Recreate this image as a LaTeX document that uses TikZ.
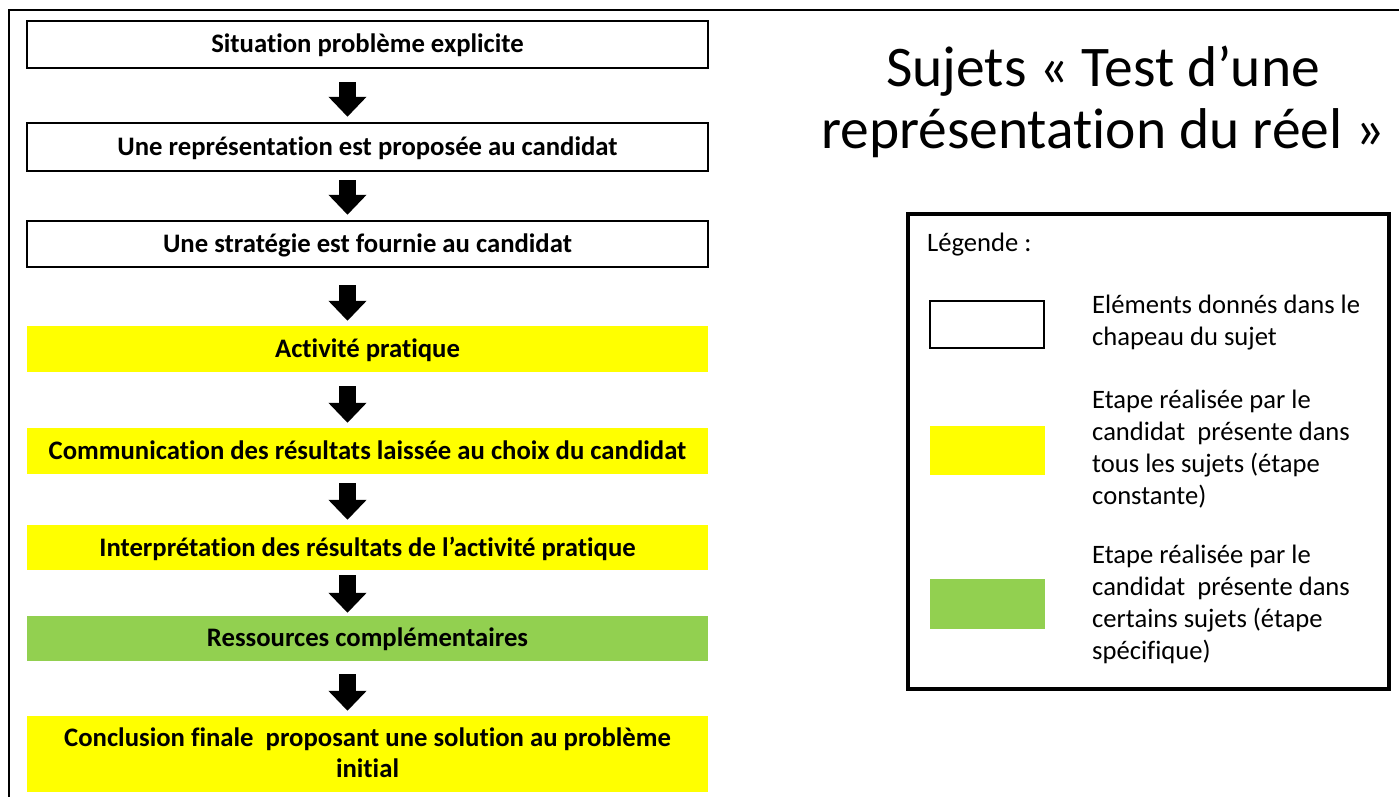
\documentclass[tikz,border=0pt]{standalone}
\usepackage{fontspec}
\setmainfont{Carlito}[Ligatures=NoCommon]
\usetikzlibrary{arrows.meta}
\definecolor{yel}{HTML}{FFFF00}
\definecolor{grn}{HTML}{92D050}
\tikzset{
  stepbase/.style={rectangle, minimum width=681pt, inner sep=0pt, text depth=2pt, font=\fontsize{26.7}{31}\selectfont\bfseries, align=center},
  given/.style={stepbase, draw=black, line width=2.5pt, fill=white},
  constant/.style={stepbase, fill=yel},
  specific/.style={stepbase, fill=grn},
  blk/.style={line width=17pt, black, -{Triangle[width=37pt,length=20pt]}},
  legtext/.style={anchor=west, align=left, inner sep=0pt, font=\fontsize{26.6}{32}\selectfont},
}
\begin{document}
\begin{tikzpicture}[x=1pt,y=-1pt]
\useasboundingbox (0,0) rectangle (1399,796);
% outer frame
\draw[line width=2pt] (9,800) -- (9,10) -- (1402,10);

\node[given, minimum height=47pt] (s1) at (367.5,44.5) {Situation problème explicite};
\node[given, minimum height=48pt] (s2) at (367.5,147) {Une représentation est proposée au candidat};
\node[given, minimum height=46pt] (s3) at (367.5,244) {Une stratégie est fournie au candidat};
\node[constant, minimum height=46pt] (s4) at (367.5,349) {Activité pratique};
\node[constant, minimum height=46pt] (s5) at (367.5,451) {Communication des résultats laissée au choix du candidat};
\node[constant, minimum height=45pt] (s6) at (367.5,547.5) {Interprétation des résultats de l’activité pratique};
\node[specific, minimum height=45pt] (s7) at (367.5,638.5) {Ressources complémentaires};
\node[constant, minimum height=76pt] (s8) at (367.5,754) {Conclusion finale\ \ proposant une solution au problème\\initial};

\draw[blk, shorten <=13pt, shorten >=5pt] ([xshift=-20pt]s1.south) -- ([xshift=-20pt]s2.north);
\draw[blk, shorten <=8pt, shorten >=5pt] ([xshift=-20pt]s2.south) -- ([xshift=-20pt]s3.north);
\draw[blk, shorten <=17pt, shorten >=5pt] ([xshift=-20pt]s3.south) -- ([xshift=-20pt]s4.north);
\draw[blk, shorten <=14pt, shorten >=5pt] ([xshift=-20pt]s4.south) -- ([xshift=-20pt]s5.north);
\draw[blk, shorten <=9pt, shorten >=5pt] ([xshift=-20pt]s5.south) -- ([xshift=-20pt]s6.north);
\draw[blk, shorten <=5pt, shorten >=3pt] ([xshift=-20pt]s6.south) -- ([xshift=-20pt]s7.north);
\draw[blk, shorten <=13pt, shorten >=5pt] ([xshift=-20pt]s7.south) -- ([xshift=-20pt]s8.north);

% title
\node[align=center, inner sep=0pt, font=\fontsize{57.5}{62}\selectfont] (title) at (1103,102) {Sujets « Test d’une\\représentation du réel »};

% legend
\node[draw=black, line width=3.5pt, rectangle, minimum width=481pt, minimum height=475pt, inner sep=0pt] (leg) at (1148.5,451.5) {};
\node[anchor=west, inner sep=0pt, font=\fontsize{26.6}{32}\selectfont] (legtitle) at (927,245) {Légende :};
\node[draw=black, line width=2pt, minimum width=114pt, minimum height=47pt, inner sep=0pt] (k1) at (987,324.5) {};
\node[fill=yel, minimum width=115pt, minimum height=49pt, inner sep=0pt] (k2) at (987.5,450.5) {};
\node[fill=grn, minimum width=115pt, minimum height=50pt, inner sep=0pt] (k3) at (987.5,604) {};
\node[legtext] (t1) at (1092,323) {Eléments donnés dans le\\chapeau du sujet};
\node[legtext] (t2) at (1092,449) {Etape réalisée par le\\candidat\ \ présente dans\\tous les sujets (étape\\constante)};
\node[legtext] (t3) at (1092,604) {Etape réalisée par le\\candidat\ \ présente dans\\certains sujets (étape\\spécifique)};
\end{tikzpicture}
\end{document}
